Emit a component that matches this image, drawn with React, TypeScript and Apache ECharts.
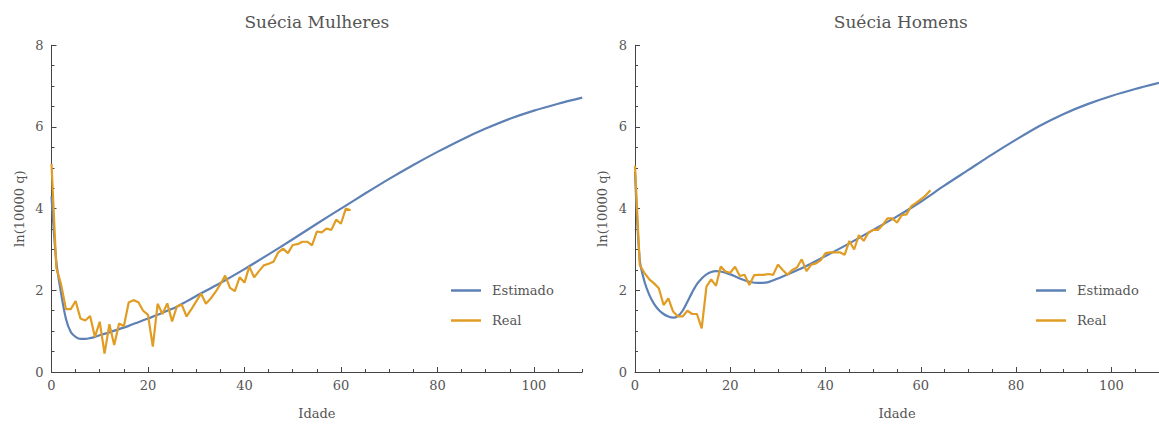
import React, { useEffect, useRef } from "react";
import * as echarts from "echarts";

// Ages (years) for the observed mortality series
const realAges = Array.from({ length: 63 }, (_, i) => i);

// ln(10000 q) observed – women
const realWomen = [
  5.1, 2.55, 2.14, 1.54, 1.54, 1.74, 1.31, 1.26, 1.37, 0.86,
  1.23, 0.45, 1.17, 0.66, 1.19, 1.12, 1.7, 1.76, 1.71, 1.5,
  1.4, 0.62, 1.67, 1.42, 1.68, 1.24, 1.61, 1.65, 1.36, 1.54,
  1.73, 1.92, 1.67, 1.8, 1.96, 2.15, 2.36, 2.06, 1.98, 2.32,
  2.19, 2.58, 2.32, 2.47, 2.61, 2.65, 2.7, 2.93, 3.02, 2.91,
  3.11, 3.13, 3.19, 3.19, 3.1, 3.44, 3.42, 3.51, 3.48, 3.73,
  3.63, 4.0, 3.96,
];

// ln(10000 q) observed – men
const realMen = [
  5.05, 2.62, 2.42, 2.27, 2.17, 2.05, 1.64, 1.8, 1.48, 1.36,
  1.36, 1.5, 1.42, 1.42, 1.07, 2.09, 2.27, 2.11, 2.58, 2.46,
  2.43, 2.58, 2.35, 2.38, 2.13, 2.37, 2.38, 2.38, 2.4, 2.38,
  2.63, 2.5, 2.38, 2.5, 2.56, 2.76, 2.47, 2.63, 2.66, 2.74,
  2.91, 2.93, 2.93, 2.93, 2.87, 3.21, 3.0, 3.35, 3.21, 3.41,
  3.48, 3.48, 3.6, 3.76, 3.76, 3.66, 3.84, 3.86, 4.06, 4.14,
  4.23, 4.32, 4.45,
];

// Fitted model – women
const estAgesWomen = [
  0, 1, 2, 3, 4, 5, 6, 7, 8, 9, 10, 12, 14, 16, 18, 20, 22, 24, 26, 28, 30,
  35, 40, 45, 50, 55, 60, 65, 70, 75, 80, 85, 90, 95, 100, 105, 110,
];
const estWomen = [
  4.3, 2.7, 1.92, 1.3, 0.98, 0.86, 0.81, 0.81, 0.83, 0.86, 0.9, 0.97, 1.05,
  1.13, 1.22, 1.31, 1.4, 1.5, 1.6, 1.73, 1.86, 2.18, 2.52, 2.88, 3.25, 3.63,
  4.0, 4.37, 4.73, 5.07, 5.39, 5.69, 5.96, 6.2, 6.4, 6.57, 6.72,
];

// Fitted model – men
const estAgesMen = [
  0, 1, 2, 3, 4, 5, 6, 7, 8, 9, 10, 11, 12, 13, 14, 15, 16, 17, 18, 20, 22,
  24, 26, 28, 30, 35, 40, 45, 50, 55, 60, 65, 70, 75, 80, 85, 90, 95, 100,
  105, 110,
];
const estMen = [
  4.9, 2.74, 2.21, 1.89, 1.67, 1.52, 1.42, 1.36, 1.33, 1.37, 1.5, 1.72, 1.95,
  2.15, 2.29, 2.39, 2.45, 2.47, 2.46, 2.39, 2.29, 2.21, 2.18, 2.2, 2.29, 2.54,
  2.84, 3.15, 3.48, 3.81, 4.17, 4.57, 4.95, 5.33, 5.69, 6.03, 6.32, 6.56, 6.76,
  6.93, 7.08,
];

const xMajorTicks = [0, 20, 40, 60, 80, 100];
const titles = ["Suécia Mulheres", "Suécia Homens"];
const seriesNames = ["Estimado", "Real"];

const FONT = "'DejaVu Serif', 'Liberation Serif', serif";
const TEXT = "#555";
const AXIS = "#444";
const BLUE = "#5E81B5";
const ORANGE = "#E19C24";

const PLOT_TOP = 45.3;
const PLOT_H = 327.2;
const panels = [
  { left: 51.5, width: 530.7, legendLeft: 451 },
  { left: 635, width: 531.6, legendLeft: 1036 },
];

const pairs = (xs: number[], ys: number[]) => xs.map((x, i) => [x, ys[i]]);

function buildOption() {
  const grid = panels.map((p) => ({
    left: p.left,
    top: PLOT_TOP,
    width: p.width,
    height: PLOT_H,
    containLabel: false,
  }));

  const xAxis: any[] = [];
  const yAxis: any[] = [];
  panels.forEach((_, g) => {
    xAxis.push({
      type: "value",
      gridIndex: g,
      min: 0,
      max: 110,
      interval: 20,
      axisLine: { show: true, onZero: false, lineStyle: { color: AXIS, width: 1 } },
      axisTick: {
        show: true,
        inside: true,
        length: 5,
        customValues: xMajorTicks,
        lineStyle: { color: AXIS },
      },
      axisLabel: {
        customValues: xMajorTicks,
        color: TEXT,
        fontFamily: FONT,
        fontSize: 13,
        margin: 7,
      },
      splitLine: { show: false },
      name: "Idade",
      nameLocation: "middle",
      nameGap: 35,
      nameTextStyle: { color: TEXT, fontFamily: FONT, fontSize: 13 },
    });
    xAxis.push({
      type: "value",
      gridIndex: g,
      min: 0,
      max: 110,
      interval: 5,
      position: "bottom",
      axisLine: { show: false },
      axisTick: { show: true, inside: true, length: 3, lineStyle: { color: AXIS } },
      axisLabel: { show: false },
      splitLine: { show: false },
    });
    yAxis.push({
      type: "value",
      gridIndex: g,
      min: 0,
      max: 8,
      interval: 2,
      position: "left",
      axisLine: { show: true, onZero: false, lineStyle: { color: AXIS, width: 1 } },
      axisTick: { show: true, inside: true, length: 5, lineStyle: { color: AXIS } },
      axisLabel: { color: TEXT, fontFamily: FONT, fontSize: 13, margin: 8 },
      splitLine: { show: false },
      name: "ln(10000 q)",
      nameLocation: "middle",
      nameGap: 26,
      nameTextStyle: { color: TEXT, fontFamily: FONT, fontSize: 13 },
    });
    yAxis.push({
      type: "value",
      gridIndex: g,
      min: 0,
      max: 8,
      interval: 0.5,
      position: "left",
      axisLine: { show: false },
      axisTick: { show: true, inside: true, length: 3, lineStyle: { color: AXIS } },
      axisLabel: { show: false },
      splitLine: { show: false },
    });
  });

  const line = (name: string, g: number, data: number[][], color: string, smooth: boolean) => ({
    type: "line",
    name,
    xAxisIndex: g * 2,
    yAxisIndex: g * 2,
    data,
    smooth: smooth ? 0.3 : false,
    showSymbol: false,
    symbol: "none",
    lineStyle: { color, width: 2.2 },
    itemStyle: { color },
    z: name === "Real" ? 3 : 2,
  });

  const series = [
    line(seriesNames[0], 0, pairs(estAgesWomen, estWomen), BLUE, true),
    line(seriesNames[1], 0, pairs(realAges, realWomen), ORANGE, false),
    line(seriesNames[0], 1, pairs(estAgesMen, estMen), BLUE, true),
    line(seriesNames[1], 1, pairs(realAges, realMen), ORANGE, false),
  ];

  const legend = panels.map((p) => ({
    left: p.legendLeft,
    top: 283,
    padding: 0,
    orient: "vertical",
    data: seriesNames,
    icon: "rect",
    itemWidth: 30,
    itemHeight: 2.5,
    itemGap: 15,
    selectedMode: false,
    textStyle: {
      color: TEXT,
      fontFamily: FONT,
      fontSize: 13,
      lineHeight: 15,
      padding: [0, 0, 0, 6],
    },
  }));

  const graphic = panels.map((p, i) => ({
    type: "text",
    x: p.left + p.width / 2,
    y: 22,
    style: {
      text: titles[i],
      align: "center",
      verticalAlign: "middle",
      fontFamily: FONT,
      fontSize: 17,
      fill: TEXT,
    },
  }));

  return {
    animation: false,
    backgroundColor: "#ffffff",
    grid,
    xAxis,
    yAxis,
    series,
    legend,
    graphic,
  };
}

export default function App() {
  const ref = useRef<HTMLDivElement>(null);

  useEffect(() => {
    if (!ref.current) return;
    const chart = echarts.init(ref.current, undefined, { renderer: "svg" });
    chart.setOption(buildOption() as any);
    return () => chart.dispose();
  }, []);

  return (
    <div
      ref={ref}
      style={{ position: "absolute", left: 0, top: 0, width: 1159, height: 425, overflow: "hidden" }}
    />
  );
}
